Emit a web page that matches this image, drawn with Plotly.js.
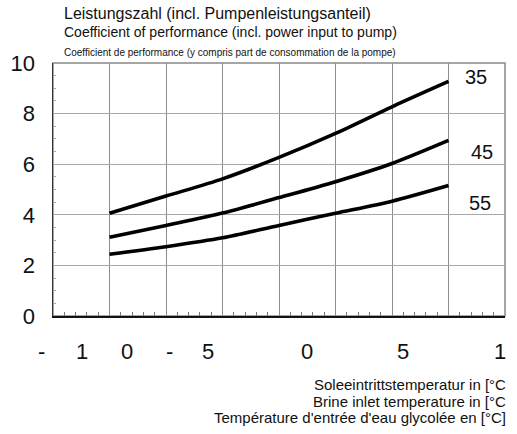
<!DOCTYPE html>
<html>
<head>
<meta charset="utf-8">
<script src="https://cdn.plot.ly/plotly-3.0.1.min.js"></script>
<style>
  html, body { margin: 0; padding: 0; background: #fff; }
  #chart { width: 517px; height: 434px; }
</style>
</head>
<body>
<div id="chart"></div>
<script>
// brine inlet temperature [°C]
var brineTemp = [-5, 0, 5, 10, 15, 20, 25];

// COP per flow temperature
var cop35 = [4.06, 4.74, 5.42, 6.27, 7.22, 8.27, 9.27];
var cop45 = [3.11, 3.58, 4.07, 4.68, 5.31, 6.03, 6.94];
var cop55 = [2.44, 2.74, 3.09, 3.58, 4.06, 4.54, 5.16];

var seriesNames = ['35', '45', '55'];
var seriesLabelX = [27.4, 27.95, 27.8];
var seriesLabelY = [9.45, 6.48, 4.47];

// x tick labels as printed (split characters), positions in °C
var xTickText = ['-', '1', '0', '-', '5', '0', '5', '1'];
var xTickPos = [-11.06, -7.43, -3.45, 0.27, 3.72, 12.48, 20.97, 29.56];

var titleLines = [
  'Leistungszahl (incl. Pumpenleistungsanteil)',
  'Coefficient of performance (incl. power input to pump)',
  'Coefficient de performance (y compris part de consommation de la pompe)'
];
var xTitleLines = [
  'Soleeintrittstemperatur in [°C',
  'Brine inlet temperature in [°C',
  'Température d\'entrée d\'eau glycolée en [°C]'
];

var CHART = document.getElementById('chart');
var FONT = 'Liberation Sans, Arial, sans-serif';
var X_RANGE = [-10, 30];

function line_trace(y, name) {
  return {
    x: brineTemp,
    y: y,
    name: name,
    mode: 'lines',
    type: 'scatter',
    line: {color: '#000', width: 3.6, shape: 'spline', smoothing: 0.8},
    hoverinfo: 'skip'
  };
}

var data = [
  line_trace(cop35, seriesNames[0]),
  line_trace(cop45, seriesNames[1]),
  line_trace(cop55, seriesNames[2])
];

var annotations = [];
for (var i = 0; i < seriesNames.length; i++) {
  annotations.push({
    x: seriesLabelX[i], y: seriesLabelY[i], xref: 'x', yref: 'y',
    text: seriesNames[i], showarrow: false,
    font: {family: FONT, size: 20, color: '#111'}
  });
}
// tick characters go through paper coords so the one left of the axis is kept
for (var j = 0; j < xTickText.length; j++) {
  annotations.push({
    x: (xTickPos[j] - X_RANGE[0]) / (X_RANGE[1] - X_RANGE[0]),
    y: -0.142, xref: 'paper', yref: 'paper',
    xanchor: 'center', yanchor: 'middle',
    text: xTickText[j], showarrow: false,
    font: {family: FONT, size: 22, color: '#111'}
  });
}
var titleY = [1.194, 1.123, 1.043];
var titleSize = [16, 14, 10];
for (var k = 0; k < titleLines.length; k++) {
  annotations.push({
    x: 0.02, y: titleY[k], xref: 'paper', yref: 'paper',
    xanchor: 'left', yanchor: 'middle',
    text: titleLines[k], showarrow: false,
    font: {family: FONT, size: titleSize[k], color: '#111'}
  });
}
var xTitleY = [-0.269, -0.336, -0.403];
for (var m = 0; m < xTitleLines.length; m++) {
  annotations.push({
    x: 1.007, y: xTitleY[m], xref: 'paper', yref: 'paper',
    xanchor: 'right', yanchor: 'middle',
    text: xTitleLines[m], showarrow: false,
    font: {family: FONT, size: 15, color: '#111'}
  });
}

var layout = {
  width: 517,
  height: 434,
  margin: {l: 53, r: 12, t: 63, b: 118},
  showlegend: false,
  plot_bgcolor: '#fff',
  paper_bgcolor: '#fff',
  hovermode: false,
  xaxis: {
    range: X_RANGE,
    dtick: 5,
    tick0: -10,
    showticklabels: false,
    showgrid: true,
    gridcolor: '#8c8c8c',
    gridwidth: 1,
    zeroline: false,
    showline: true,
    linecolor: '#111',
    linewidth: 2,
    ticks: '',
    minor: {dtick: 1, ticks: 'inside', ticklen: 4, tickcolor: '#777', tickwidth: 1, showgrid: false}
  },
  yaxis: {
    range: [0, 10],
    dtick: 2,
    showgrid: true,
    gridcolor: '#a8a8a8',
    gridwidth: 1,
    zeroline: false,
    showline: true,
    linecolor: '#333',
    linewidth: 1.5,
    ticks: '',
    ticklabelstandoff: 12,
    tickfont: {family: FONT, size: 22, color: '#111'},
    minor: {dtick: 0.5, ticks: 'inside', ticklen: 3, tickcolor: '#aaa', tickwidth: 1, showgrid: false}
  },
  shapes: [{
    type: 'rect', xref: 'paper', yref: 'paper',
    x0: 0, x1: 1, y0: 0, y1: 1,
    line: {color: '#888', width: 1.5},
    layer: 'below'
  }],
  annotations: annotations
};

Plotly.newPlot(CHART, data, layout, {displayModeBar: false, staticPlot: true});
</script>
</body>
</html>
